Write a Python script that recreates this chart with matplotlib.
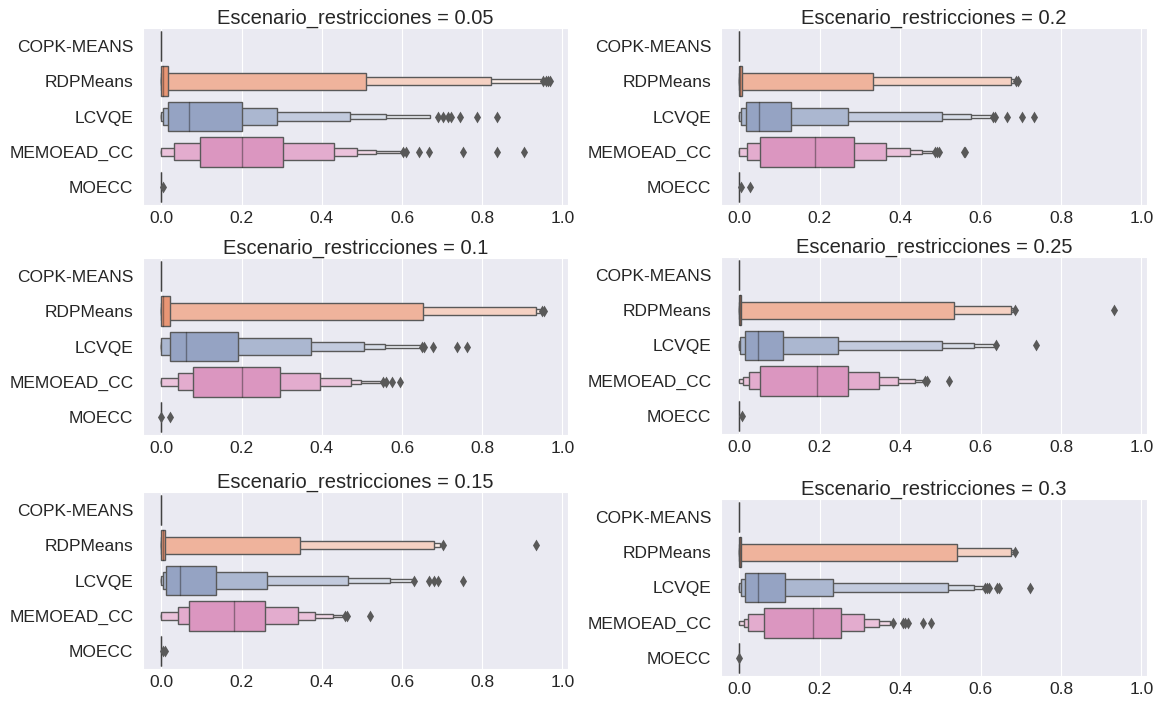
import colorsys
import numpy as np
import matplotlib
matplotlib.use("Agg")
import matplotlib.pyplot as plt
import matplotlib.colors as mcolors
import seaborn as sns

sns.set_style("darkgrid")
plt.rcParams['font.family'] = ['Liberation Sans', 'DejaVu Sans']

algorithms = ["COPK-MEANS", "RDPMeans", "LCVQE", "MEMOEAD_CC", "MOECC"]
scenarios = [0.05, 0.2, 0.1, 0.25, 0.15, 0.3]   # panel order, row by row

# letter-value box ends (lower, upper), innermost box (IQR) first
boxes_005 = {
    "COPK-MEANS": [(0, 0)],
    "RDPMeans": [(0, 0.017), (0, 0.51), (0, 0.823), (0, 0.947)],
    "LCVQE": [(0.017, 0.201), (0.003, 0.288), (0, 0.471), (0, 0.56), (0, 0.671)],
    "MEMOEAD_CC": [(0.095, 0.302), (0.032, 0.431), (0, 0.487), (0, 0.535), (0, 0.6)],
    "MOECC": [(0, 0)],
}
boxes_02 = {
    "COPK-MEANS": [(0, 0)],
    "RDPMeans": [(0, 0.006), (0, 0.333), (0, 0.675), (0, 0.684)],
    "LCVQE": [(0.016, 0.129), (0.004, 0.27), (0, 0.503), (0, 0.577), (0, 0.63)],
    "MEMOEAD_CC": [(0.051, 0.286), (0.019, 0.364), (0, 0.424), (0, 0.453), (0, 0.484)],
    "MOECC": [(0, 0)],
}
boxes_01 = {
    "COPK-MEANS": [(0, 0)],
    "RDPMeans": [(0, 0.021), (0, 0.652), (0, 0.935), (0, 0.945)],
    "LCVQE": [(0.021, 0.192), (0, 0.372), (0, 0.506), (0, 0.557), (0, 0.649)],
    "MEMOEAD_CC": [(0.078, 0.296), (0.042, 0.395), (0, 0.474), (0, 0.497), (0, 0.552)],
    "MOECC": [(0, 0)],
}
boxes_025 = {
    "COPK-MEANS": [(0, 0)],
    "RDPMeans": [(0, 0.003), (0, 0.533), (0, 0.675), (0, 0.68)],
    "LCVQE": [(0.014, 0.109), (0.002, 0.246), (0, 0.504), (0, 0.583), (0, 0.635)],
    "MEMOEAD_CC": [(0.051, 0.269), (0.023, 0.348), (0.009, 0.394), (0, 0.436), (0, 0.462)],
    "MOECC": [(0, 0)],
}
boxes_015 = {
    "COPK-MEANS": [(0, 0)],
    "RDPMeans": [(0, 0.009), (0, 0.346), (0, 0.679), (0, 0.695)],
    "LCVQE": [(0.012, 0.137), (0.003, 0.264), (0, 0.466), (0, 0.569), (0, 0.631)],
    "MEMOEAD_CC": [(0.069, 0.259), (0.042, 0.341), (0, 0.383), (0, 0.429), (0, 0.455)],
    "MOECC": [(0, 0)],
}
boxes_03 = {
    "COPK-MEANS": [(0, 0)],
    "RDPMeans": [(0, 0.003), (0, 0.541), (0, 0.675), (0, 0.683)],
    "LCVQE": [(0.013, 0.114), (0.005, 0.233), (0, 0.52), (0, 0.583), (0, 0.606)],
    "MEMOEAD_CC": [(0.061, 0.253), (0.021, 0.309), (0.012, 0.346), (0, 0.374), (0, 0.381)],
    "MOECC": [(0, 0)],
}

# medians, same order as algorithms
medians_005 = [0, 0.004, 0.069, 0.201, 0]
medians_02 = [0, 0.002, 0.048, 0.189, 0]
medians_01 = [0, 0.004, 0.06, 0.2, 0]
medians_025 = [0, 0.001, 0.046, 0.192, 0]
medians_015 = [0, 0.003, 0.046, 0.18, 0]
medians_03 = [0, 0.001, 0.045, 0.182, 0]

outliers_005 = {
    "RDPMeans": [0.952, 0.958, 0.963, 0.968],
    "LCVQE": [0.689, 0.703, 0.714, 0.723, 0.744, 0.786, 0.837],
    "MEMOEAD_CC": [0.603, 0.61, 0.643, 0.668, 0.751, 0.837, 0.904],
    "MOECC": [0.003],
}
outliers_02 = {
    "RDPMeans": [0.688, 0.693],
    "LCVQE": [0.632, 0.637, 0.665, 0.704, 0.734],
    "MEMOEAD_CC": [0.487, 0.492, 0.497, 0.559, 0.562],
    "MOECC": [0.003, 0.027],
}
outliers_01 = {
    "RDPMeans": [0.949, 0.953],
    "LCVQE": [0.649, 0.654, 0.677, 0.737, 0.762],
    "MEMOEAD_CC": [0.552, 0.559, 0.575, 0.594],
    "MOECC": [0.0, 0.021],
}
outliers_025 = {
    "RDPMeans": [0.685, 0.932],
    "LCVQE": [0.638, 0.737],
    "MEMOEAD_CC": [0.462, 0.466, 0.522],
    "MOECC": [0.006],
}
outliers_015 = {
    "RDPMeans": [0.702, 0.934],
    "LCVQE": [0.631, 0.668, 0.679, 0.691, 0.751],
    "MEMOEAD_CC": [0.458, 0.462, 0.52],
    "MOECC": [0.003, 0.008],
}
outliers_03 = {
    "RDPMeans": [0.686],
    "LCVQE": [0.61, 0.616, 0.622, 0.641, 0.646, 0.724],
    "MEMOEAD_CC": [0.383, 0.408, 0.413, 0.419, 0.457, 0.476],
    "MOECC": [0.0],
}

panels = [
    (boxes_005, medians_005, outliers_005),
    (boxes_02, medians_02, outliers_02),
    (boxes_01, medians_01, outliers_01),
    (boxes_025, medians_025, outliers_025),
    (boxes_015, medians_015, outliers_015),
    (boxes_03, medians_03, outliers_03),
]

# axes boxes in pixels: left, top, right, bottom
W, H = 1164, 704
axes_px = [
    (143, 28, 568, 205), (721, 28, 1147, 205),
    (143, 258, 568, 435), (721, 257, 1147, 434),
    (143, 492, 568, 669), (721, 499, 1147, 676),
]

palette = ["#66c2a5", "#fc8d62", "#8da0cb", "#e78ac3", "#a6d854"]


def desaturate(color, prop):
    h, l, s = colorsys.rgb_to_hls(*mcolors.to_rgb(color))
    return colorsys.hls_to_rgb(h, l, s * prop)


colors = [desaturate(c, 0.75) for c in palette]
lum = min(colorsys.rgb_to_hls(*c)[1] for c in colors) * 0.6
gray = (lum, lum, lum)
width = 0.84
level_heights = [1.0, 0.57, 0.28, 0.15, 0.07, 0.04]
lw = 1.0

fig = plt.figure(figsize=(W / 100, H / 100), dpi=100)

for (boxes, medians, outliers), scen, (l, t, r, b) in zip(panels, scenarios, axes_px):
    ax = fig.add_axes([l / W, 1 - b / H, (r - l) / W, (b - t) / H])
    for y, alg in enumerate(algorithms):
        ends = boxes[alg]
        k = len(ends)
        base = np.array(colors[y])
        # draw outermost first so inner boxes sit on top
        for j in range(k - 1, -1, -1):
            lo, hi = ends[j]
            frac = j / (k - 1) if k > 1 else 0
            fc = base + (1 - base) * 0.85 * frac
            h = width * level_heights[j]
            ax.barh(y, hi - lo, left=lo, height=h, color=fc,
                    edgecolor=gray, linewidth=lw, zorder=2)
        ax.plot([medians[y], medians[y]], [y - width / 2, y + width / 2],
                color='.15', alpha=.45, lw=lw, zorder=3)
        if alg in outliers:
            pts = outliers[alg]
            ax.scatter(pts, np.repeat(y, len(pts)), marker='d', color=gray,
                       s=36, zorder=4, linewidths=0)
    ax.set_xlim(-0.046, 1.014)
    ax.set_ylim(4.5, -0.5)
    ax.set_yticks(range(len(algorithms)))
    ax.set_yticklabels(algorithms)
    ax.set_xticks([0, 0.2, 0.4, 0.6, 0.8, 1.0])
    ax.set_xticklabels(["0.0", "0.2", "0.4", "0.6", "0.8", "1.0"])
    ax.yaxis.grid(False)
    ax.tick_params(axis='y', labelsize=12.5, pad=7, colors='.15', length=0)
    ax.tick_params(axis='x', labelsize=12.5, pad=4, colors='.15', length=0)
    ax.set_title(f"Escenario_restricciones = {scen}", fontsize=14.5, pad=3, color='.15')

fig.savefig("out.png", dpi=100)
